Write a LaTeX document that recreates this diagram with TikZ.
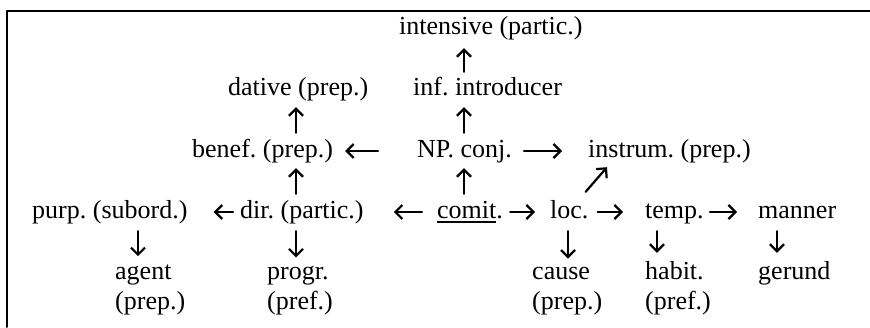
\documentclass[tikz,border=0pt]{standalone}
\usepackage{fontspec}
\setmainfont{Liberation Serif}
\usetikzlibrary{arrows.meta}
\frenchspacing
\newcommand\ulword[1]{\setbox0\hbox{#1}\rlap{\rule[-5pt]{\wd0}{1.8pt}}#1}

\begin{document}
\begin{tikzpicture}[x=1pt,y=-1pt,line cap=round,line join=round,
  >={Straight Barb[length=7pt,width=14pt]},
  lbl/.style={anchor=base west,inner sep=0pt,font=\fontsize{26}{30}\selectfont},
  one/.style={lbl,text height=18pt,text depth=6pt},
  two/.style={lbl,align=left},
  arr/.style={->,line width=2.2pt}]
\useasboundingbox (0,0) rectangle (870,327);
% frame
\draw [line width=2pt] (6.5,327) -- (6.5,11) -- (870,11);
% upper rows
\node [one] (intens) at (399,34) {intensive (partic.)};
\node [one] (inf) at (413,95) {inf. introducer};
\node [one] (dative) at (228,95) {dative (prep.)};
\node [one] (benef) at (192,157) {benef. (prep.)};
\node [one] (np) at (417,157) {NP. conj.};
\node [one] (instr) at (588,157) {instrum. (prep.)};
% middle row
\node [one] (purp) at (32,218) {purp. (subord.)};
\node [one] (dir) at (240,218) {dir. (partic.)};
\node [one] (comit) at (437,218) {\ulword{comit}.};
\node [one] (loc) at (550,218) {loc.};
\node [one] (temp) at (645,218) {temp.};
\node [one] (manner) at (758,218) {manner};
% bottom row (base is the last line)
\node [two] (agent) at (115,309) {agent\\(prep.)};
\node [two] (progr) at (267,309) {progr.\\(pref.)};
\node [two] (cause) at (532,309) {cause\\(prep.)};
\node [two] (habit) at (645,309) {habit.\\(pref.)};
\node [two] (gerund) at (758,279) {gerund};
% arrow columns
\coordinate (cmid) at (464,0);
\coordinate (cdat) at (296,0);
\coordinate (cpurp) at (138,0);
\coordinate (cloc) at (568,0);
\coordinate (ctemp) at (657,0);
\coordinate (cman) at (777,0);
% vertical arrows
\draw [arr,shorten <=5pt,shorten >=8pt] (inf.north -| cmid) -- (intens.south -| cmid);
\draw [arr,shorten <=6pt,shorten >=6pt] (np.north -| cmid) -- (inf.south -| cmid);
\draw [arr,shorten <=6pt,shorten >=5pt] (comit.north -| cmid) -- (np.south -| cmid);
\draw [arr,shorten <=6pt,shorten >=6pt] (benef.north -| cdat) -- (dative.south -| cdat);
\draw [arr,shorten <=6pt,shorten >=5pt] (dir.north -| cdat) -- (benef.south -| cdat);
\draw [arr,shorten <=7pt,shorten >=8pt] (purp.south -| cpurp) -- (agent.north -| cpurp);
\draw [arr,shorten <=7pt,shorten >=8pt] (dir.south -| cdat) -- (progr.north -| cdat);
\draw [arr,shorten <=7pt,shorten >=8pt] (loc.south -| cloc) -- (cause.north -| cloc);
\draw [arr,shorten <=7pt,shorten >=8pt] (temp.south -| ctemp) -- (habit.north -| ctemp);
\draw [arr,shorten <=7pt,shorten >=8pt] (manner.south -| cman) -- (gerund.north -| cman);
% horizontal arrows
\draw [arr,shorten <=39pt,shorten >=12pt] (np.west) -- (benef.east);
\draw [arr,shorten <=12pt,shorten >=26pt] (np.east) -- (instr.west);
\draw [arr,shorten <=7pt,shorten >=26pt] (dir.west) -- (purp.east);
\draw [arr,shorten <=15pt,shorten >=30pt] (comit.west) -- (dir.east);
\draw [arr,shorten <=7pt,shorten >=15pt] (comit.east) -- (loc.west);
\draw [arr,shorten <=9pt,shorten >=22pt] (loc.east) -- (temp.west);
\draw [arr,shorten <=6pt,shorten >=21pt] (temp.east) -- (manner.west);
% diagonal
\draw [arr] ([shift={(-3,-8)}]loc.north east) -- ([shift={(19,4)}]instr.south west);
\end{tikzpicture}
\end{document}
